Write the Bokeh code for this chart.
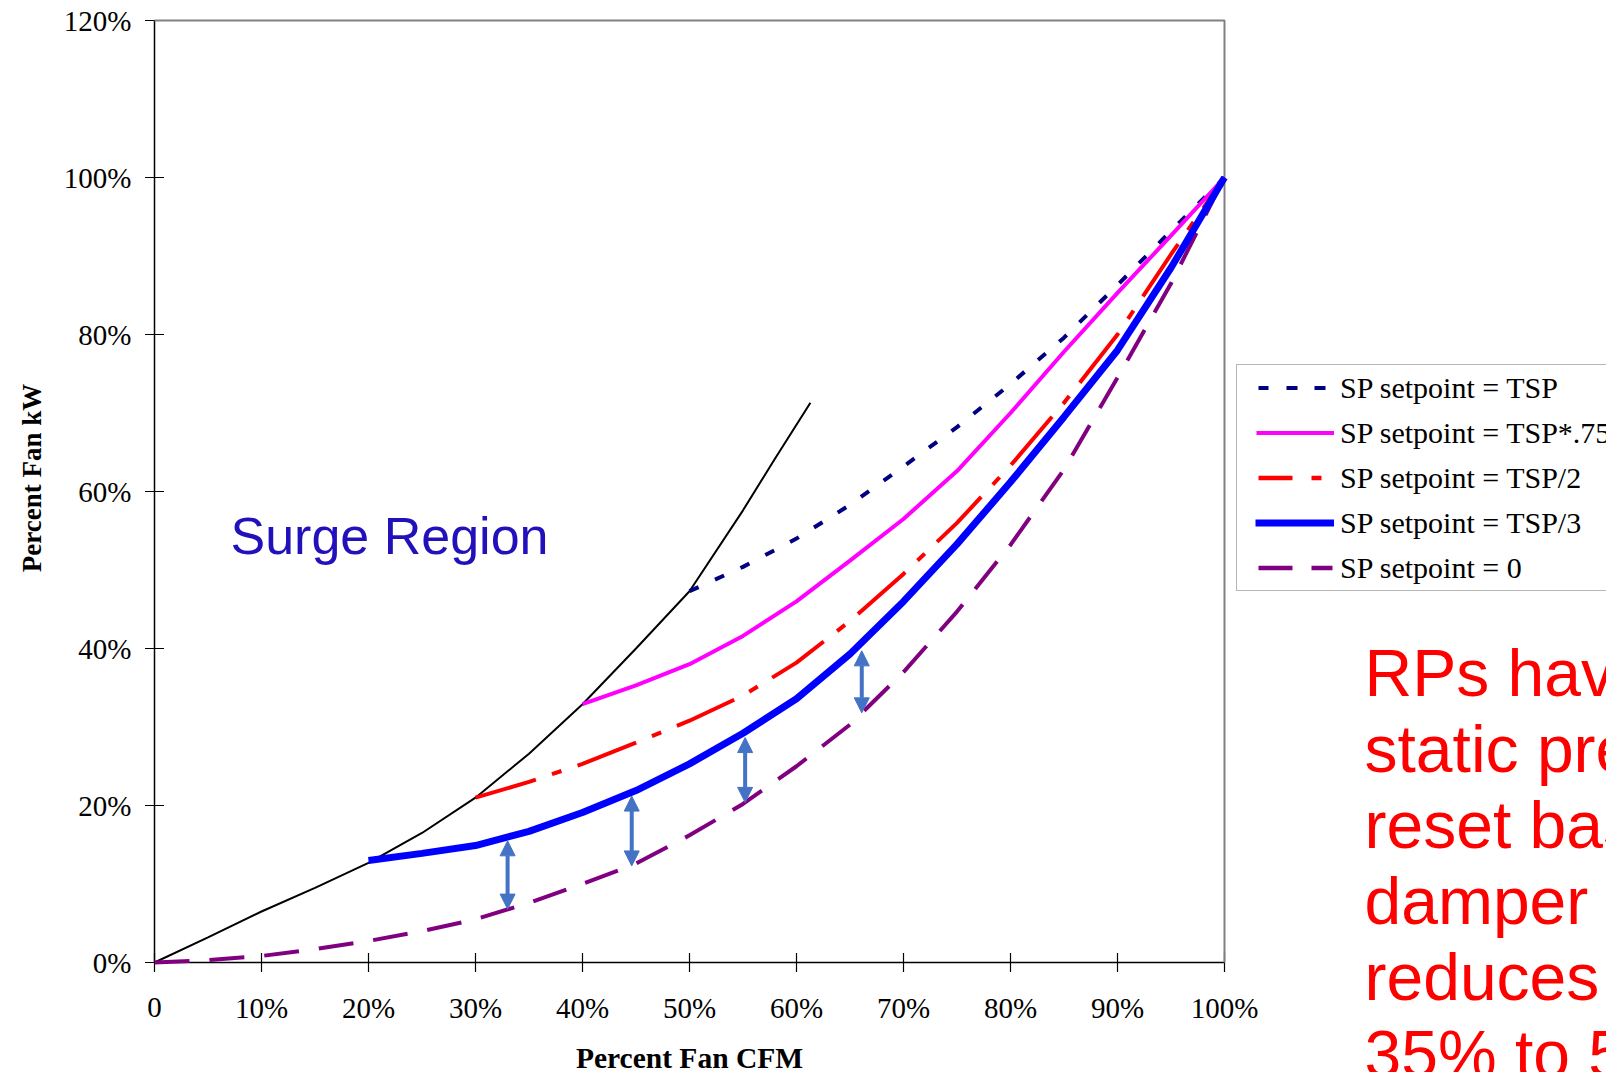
import math
from bokeh.plotting import figure
from bokeh.models import (Range1d, Label, Legend, LegendItem, Arrow, NormalHead,
                          ColumnDataSource)
from bokeh.core.properties import value
from bokeh.embed import file_html
from bokeh.resources import INLINE

# ---------------- data (percent) ----------------
x_ticks = [0, 10, 20, 30, 40, 50, 60, 70, 80, 90, 100]
x_tick_labels = ["0", "10%", "20%", "30%", "40%", "50%", "60%", "70%", "80%", "90%", "100%"]
y_ticks = [0, 20, 40, 60, 80, 100, 120]
y_tick_labels = ["0%", "20%", "40%", "60%", "80%", "100%", "120%"]

surge_x = [0, 5, 10, 15, 20, 25, 30, 35, 40, 45, 50, 55, 58, 61.3]
surge_y = [0, 3.2, 6.5, 9.5, 12.7, 16.5, 21.0, 26.6, 32.9, 40.0, 47.3, 57.6, 64.2, 71.3]

tsp_x = [50, 55, 60, 65, 70, 75, 80, 85, 90, 95, 100]
tsp_y = [47.3, 50.4, 54.0, 58.3, 63.2, 68.2, 73.7, 79.6, 86.3, 93.2, 100]

tsp75_x = [40, 45, 50, 55, 60, 65, 70, 75, 80, 85, 90, 95, 100]
tsp75_y = [32.9, 35.3, 38.0, 41.6, 46.0, 51.2, 56.5, 62.6, 70.0, 77.8, 85.3, 92.6, 100]

tsp2_x = [30, 35, 40, 45, 50, 55, 60, 65, 70, 75, 80, 85, 90, 95, 100]
tsp2_y = [21.0, 23.0, 25.3, 28.0, 30.8, 34.0, 38.2, 43.5, 49.5, 56.0, 63.3, 71.3, 80.0, 90.2, 100]

tsp3_x = [20, 25, 30, 35, 40, 45, 50, 55, 60, 65, 70, 75, 80, 85, 90, 95, 100]
tsp3_y = [13.0, 13.9, 14.9, 16.7, 19.1, 21.9, 25.3, 29.2, 33.6, 39.3, 46.0, 53.3, 61.2, 69.5, 78.0, 88.5, 100]

sp0_x = [0, 5, 10, 15, 20, 25, 30, 35, 40, 45, 50, 55, 60, 65, 70, 75, 80, 85, 90, 95, 100]
sp0_y = [0, 0.3, 0.83, 1.7, 2.74, 4.0, 5.5, 7.6, 10.0, 12.6, 16.2, 20.2, 25.0, 30.3, 37.0, 44.7,
         53.2, 62.8, 74.5, 86.5, 100]

arrow_x = [33.0, 44.6, 55.2, 66.1]
arrow_top = [15.5, 21.2, 28.65, 39.7]
arrow_bottom = [6.8, 12.3, 20.4, 31.8]

series_labels = ["SP setpoint = TSP", "SP setpoint = TSP*.75", "SP setpoint = TSP/2",
                 "SP setpoint = TSP/3", "SP setpoint = 0"]
note_lines = ["RPs have", "static pressure", "reset based on", "damper position,",
              "reduces fan kW", "35% to 50%"]

# ---------------- layout (page pixels) ----------------
W, H = 1606, 1072
X0_PX, Y0_PX = 154, 962          # pixel position of (0%, 0%)
PX_PER_X, PX_PER_Y = 10.70, 7.85  # pixels per 1 %


def dx(px):
    return (px - X0_PX) / PX_PER_X


def dy(px):
    return (Y0_PX - px) / PX_PER_Y


p = figure(width=W, height=H, output_backend="svg", toolbar_location=None,
           x_range=Range1d(dx(0), dx(W)), y_range=Range1d(dy(H), dy(0)),
           x_axis_location=None, y_axis_location=None,
           min_border_left=0, min_border_right=0, min_border_top=0, min_border_bottom=0)
p.outline_line_color = None
p.grid.visible = False
p.background_fill_color = "white"
p.border_fill_color = "white"

SERIF = "Liberation Serif"
SANS = "Liberation Sans"
x0, x1 = x_ticks[0], x_ticks[-1]
y0, y1 = y_ticks[0], y_ticks[-1]

# ---- axes drawn through the data scales ----
# x axis at y = 0
p.line([x0, x1], [y0, y0], line_color="black", line_width=1.5)
p.scatter(x_ticks, [y0] * len(x_ticks), marker="dash", size=19, angle=math.pi / 2,
          line_color="black", line_width=1.2)
p.text(x=x_ticks, y=[dy(1007)] * len(x_ticks), text=x_tick_labels,
       text_font=value(SERIF), text_font_size="29px", text_color="black",
       text_align="center", text_baseline="middle")
p.add_layout(Label(x=(x0 + x1) / 2, y=dy(1041), text="Percent Fan CFM",
                   text_font=SERIF, text_font_size="29.5px", text_font_style="bold",
                   text_color="black", text_align="center", text_baseline="top"))
# y axis at x = 0
p.line([x0, x0], [y0, y1], line_color="black", line_width=1.5)
p.scatter([x0] * len(y_ticks), y_ticks, marker="dash", size=19,
          line_color="black", line_width=1.2)
p.text(x=[dx(131)] * len(y_ticks), y=y_ticks, text=y_tick_labels,
       text_font=value(SERIF), text_font_size="29px", text_color="black",
       text_align="right", text_baseline="middle")
p.add_layout(Label(x=dx(31), y=dy(477.5), text="Percent Fan kW", angle=math.pi / 2,
                   text_font=SERIF, text_font_size="27px", text_font_style="bold",
                   text_color="black", text_align="center", text_baseline="middle"))

# plot-area border (top and right)
p.line([x0, x1, x1], [y1, y1, y0], line_color="#808080", line_width=2)

# curves
p.line(surge_x, surge_y, line_color="black", line_width=2)
p.line(sp0_x, sp0_y, line_color="#800080", line_width=4, line_dash="35 20")
p.line(tsp_x, tsp_y, line_color="#000080", line_width=4, line_dash="10 18")
p.line(tsp75_x, tsp75_y, line_color="#FF00FF", line_width=4)
p.line(tsp2_x, tsp2_y, line_color="#FF0000", line_width=4, line_dash="63 17 10 17")
p.line(tsp3_x, tsp3_y, line_color="#0000FF", line_width=7)

# arrows
asrc = ColumnDataSource(dict(x=arrow_x, y0=arrow_top, y1=arrow_bottom))
ac = "#4472C4"
p.add_layout(Arrow(x_start="x", y_start="y0", x_end="x", y_end="y1", source=asrc,
                   line_color=ac, line_width=4,
                   start=NormalHead(size=15, fill_color=ac, line_color=ac, line_width=1),
                   end=NormalHead(size=15, fill_color=ac, line_color=ac, line_width=1)))

# legend (invisible helper renderers carry the legend sample styles)
leg_styles = [
    dict(line_color="#000080", line_width=4, line_dash="0 21 10 18 11 17 11 1000"),
    dict(line_color="#FF00FF", line_width=4, line_dash="0 19 78 1000"),
    dict(line_color="#FF0000", line_width=4.5, line_dash="0 21 34 19 10 1000"),
    dict(line_color="#0000FF", line_width=7, line_dash="0 18 80 1000"),
    dict(line_color="#800080", line_width=4.5, line_dash="0 21 34 19 21 1000"),
]
nan = float("nan")
items = []
for lab, st in zip(series_labels, leg_styles):
    r = p.line([nan, nan], [nan, nan], **st)
    items.append(LegendItem(label=lab, renderers=[r]))
legend = Legend(items=items, location=(1236, H - 591), orientation="vertical",
                padding=0, margin=0, spacing=0, glyph_width=97, glyph_height=45,
                label_height=45, label_standoff=6, label_text_font=SERIF,
                label_text_font_size="30px", label_text_color="black",
                border_line_color="#707070", border_line_width=1.5,
                background_fill_color="white", background_fill_alpha=1.0)
p.add_layout(legend)

# texts
p.add_layout(Label(x=dx(230), y=dy(506), text="Surge Region", text_font=SANS,
                   text_font_size="52px", text_color="#2211BB", text_baseline="top"))
for i, line in enumerate(note_lines):
    p.add_layout(Label(x=dx(1364), y=dy(635 + 76.2 * i), text=line, text_font=SANS,
                       text_font_size="66px", text_color="#FF0000", text_baseline="top"))

open("out.html", "w").write(file_html(p, INLINE))
